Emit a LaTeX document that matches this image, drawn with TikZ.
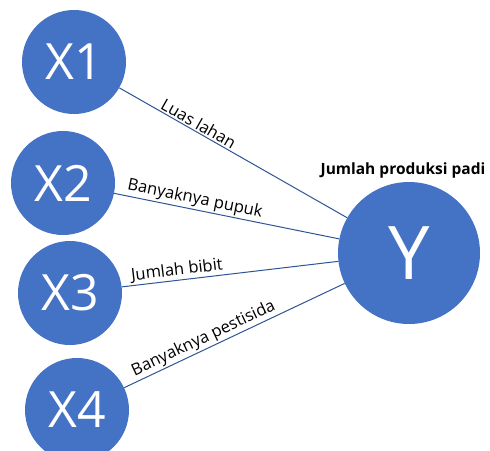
\documentclass[tikz,border=0pt]{standalone}
\usepackage{fontspec}
\setmainfont{Open Sans}
\definecolor{nodeblue}{HTML}{4472C4}
\definecolor{linkblue}{HTML}{2F5597}
\begin{document}
\begin{tikzpicture}[x=1pt,y=1pt,
  varnode/.style={circle, fill=nodeblue, inner sep=0pt, minimum size=104pt,
    text=white, font=\fontsize{50}{56}\selectfont},
  outnode/.style={circle, fill=nodeblue, inner sep=0pt, minimum size=142pt,
    text=white, font=\fontsize{74}{80}\selectfont},
  link/.style={draw=linkblue, line width=1pt},
  lbl/.style={sloped, above, inner sep=1.5pt, font=\fontsize{16.5}{19}\selectfont}]
\clip (0,0) rectangle (490,-450);
\fill[white] (0,0) rectangle (490,-450);
% input variables
\node[varnode] (x1) at (74,-62) {X1};
\node[varnode] (x2) at (63,-183) {X2};
\node[varnode] (x3) at (70,-293) {X3};
\node[varnode] (x4) at (77,-410) {X4};
% output variable and its caption
\node[outnode] (y) at (409,-253) {Y};
\node[font=\bfseries\fontsize{15.5}{18}\selectfont] (title) at (403,-170) {Jumlah produksi padi};
% labelled links
\draw[link] (x1) -- node[lbl, pos=0.33] {Luas lahan} (y);
\draw[link] (x2) -- node[lbl, pos=0.35] {Banyaknya pupuk} (y);
\draw[link] (x3) -- node[lbl, pos=0.26] {Jumlah bibit} (y);
\draw[link] (x4) -- node[lbl, pos=0.38] {Banyaknya pestisida} (y);
\end{tikzpicture}
\end{document}
